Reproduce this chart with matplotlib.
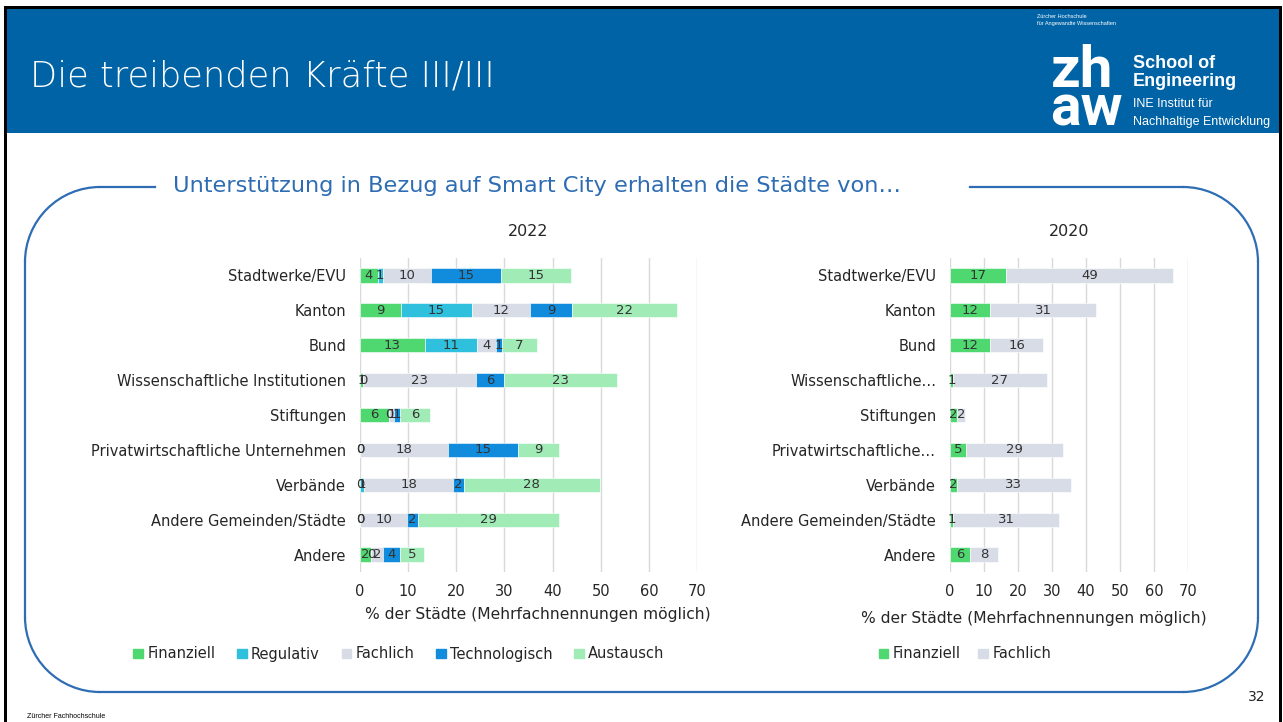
import matplotlib
matplotlib.use("Agg")
import matplotlib.pyplot as plt
from matplotlib.patches import Rectangle, Arc, Patch

plt.rcParams['font.family'] = ['DejaVu Sans']

# ---------------- data ----------------
categories = ["Stadtwerke/EVU", "Kanton", "Bund", "Wissenschaftliche Institutionen",
              "Stiftungen", "Privatwirtschaftliche Unternehmen", "Verbände",
              "Andere Gemeinden/Städte", "Andere"]
categories_2020 = ["Stadtwerke/EVU", "Kanton", "Bund", "Wissenschaftliche…",
                   "Stiftungen", "Privatwirtschaftliche…", "Verbände",
                   "Andere Gemeinden/Städte", "Andere"]

series_2022 = ["Finanziell", "Regulativ", "Fachlich", "Technologisch", "Austausch"]
finanziell_2022 = [3.7, 8.6, 13.4, 0.6, 6.1, 0.0, 0.0, 0.0, 2.3]
regulativ_2022 = [1.0, 14.6, 11.0, 0.0, 0.0, 0.0, 0.9, 0.0, 0.0]
fachlich_2022 = [10.0, 12.2, 3.8, 23.4, 1.0, 18.2, 18.4, 9.8, 2.4]
technologisch_2022 = [14.6, 8.6, 1.2, 6.0, 1.2, 14.6, 2.3, 2.3, 3.6]
austausch_2022 = [14.6, 21.9, 7.3, 23.3, 6.2, 8.6, 28.2, 29.2, 5.0]

series_2020 = ["Finanziell", "Fachlich"]
finanziell_2020 = [16.6, 11.8, 11.8, 1.0, 2.1, 4.6, 2.1, 1.0, 5.8]
fachlich_2020 = [49.0, 31.2, 15.6, 27.4, 2.4, 28.7, 33.4, 31.2, 8.4]

xticks = [0, 10, 20, 30, 40, 50, 60, 70]
xlabel = "% der Städte (Mehrfachnennungen möglich)"

colors = {"Finanziell": "#50d870", "Regulativ": "#2ec0dc", "Fachlich": "#d8dce6",
          "Technologisch": "#118bdb", "Austausch": "#a0ebb6"}

W, H = 1283, 722
fig = plt.figure(figsize=(W / 100, H / 100), dpi=100)
fig.patch.set_facecolor("white")

# ---------------- background / slide decoration ----------------
bg = fig.add_axes([0, 0, 1, 1], zorder=0)
bg.set_xlim(0, W)
bg.set_ylim(H, 0)
bg.axis("off")

header_blue = "#0063a6"
bg.add_patch(Rectangle((7, 9), 1272, 124, color=header_blue, lw=0))
bg.add_patch(Rectangle((4, 6), 3, H, color="black", lw=0))
bg.add_patch(Rectangle((4, 6), 1278, 3, color="black", lw=0))
bg.add_patch(Rectangle((1279, 6), 3, H, color="black", lw=0))

bg.text(30, 77, "Die treibenden Kräfte III/III", color="white", fontsize=25.4,
        va="center", ha="left", fontweight="light")

# logo
bg.text(1037, 17, "Zürcher Hochschule", color="white", fontsize=4, va="center",
        family="Liberation Sans")
bg.text(1037, 24, "für Angewandte Wissenschaften", color="white", fontsize=4,
        va="center", family="Liberation Sans")
bg.text(1051, 87, "zh", color="white", fontsize=42, fontweight="bold",
        family="Roboto", va="baseline")
bg.text(1050, 125, "aw", color="white", fontsize=41, fontweight="bold",
        family="Roboto", va="baseline")
bg.text(1133, 63, "School of", color="white", fontsize=13, fontweight="bold",
        family="Liberation Sans", va="center")
bg.text(1133, 82, "Engineering", color="white", fontsize=13, fontweight="bold",
        family="Liberation Sans", va="center")
bg.text(1133, 104, "INE Institut für", color="white", fontsize=9,
        family="Liberation Sans", va="center")
bg.text(1133, 122, "Nachhaltige Entwicklung", color="white", fontsize=9,
        family="Liberation Sans", va="center")

# rounded frame
fc = "#2e6db4"
L, R, T, B, r = 25, 1258, 187, 692, 75
lw = 1.6
bg.plot([L + r, 155], [T, T], color=fc, lw=lw)
bg.plot([970, R - r], [T, T], color=fc, lw=lw)
bg.plot([R, R], [T + r, B - r], color=fc, lw=lw)
bg.plot([L + r, R - r], [B, B], color=fc, lw=lw)
bg.plot([L, L], [T + r, B - r], color=fc, lw=lw)
bg.add_patch(Arc((L + r, T + r), 2 * r, 2 * r, theta1=180, theta2=270, color=fc, lw=lw))
bg.add_patch(Arc((R - r, T + r), 2 * r, 2 * r, theta1=270, theta2=360, color=fc, lw=lw))
bg.add_patch(Arc((R - r, B - r), 2 * r, 2 * r, theta1=0, theta2=90, color=fc, lw=lw))
bg.add_patch(Arc((L + r, B - r), 2 * r, 2 * r, theta1=90, theta2=180, color=fc, lw=lw))

bg.text(173, 186, "Unterstützung in Bezug auf Smart City erhalten die Städte von…",
        color=fc, fontsize=16.2, va="center", ha="left")

bg.text(1257, 697, "32", color="#222222", fontsize=10, ha="center", va="center")
bg.text(27, 716, "Zürcher Fachhochschule", color="black", fontsize=5,
        family="Liberation Sans", va="center")

# ---------------- charts ----------------
text_col = "#333333"


def px_axes(x0, x1, y0, y1):
    return fig.add_axes([x0 / W, 1 - y1 / H, (x1 - x0) / W, (y1 - y0) / H], zorder=2)


def style(ax, cats, title, label_x, label_y):
    ax.set_facecolor("none")
    ax.set_xlim(0, 70)
    ax.set_ylim(len(cats) - 0.5, -0.5)
    ax.set_xticks(xticks)
    ax.set_yticks(range(len(cats)))
    ax.set_yticklabels(cats, fontsize=10.5, color="#262626")
    ax.tick_params(axis="x", length=0, pad=9, labelsize=10.5, labelcolor="#262626")
    ax.tick_params(axis="y", length=0, pad=10)
    ax.grid(axis="x", color="#d9d9d9", lw=1)
    ax.set_axisbelow(True)
    for s in ax.spines.values():
        s.set_visible(False)
    ax.set_xlabel(xlabel, fontsize=11.2, color="#262626", va="center")
    ax.xaxis.set_label_coords(label_x, label_y)
    ax.set_title(title, fontsize=11.5, color="#262626", pad=16)


def stack(ax, data, names):
    left = [0.0] * len(categories)
    for vals, name in zip(data, names):
        bars = ax.barh(range(len(vals)), vals, left=left, height=0.41,
                       color=colors[name], edgecolor="white", linewidth=0.4, label=name)
        ax.bar_label(bars, labels=[f"{v:.0f}" for v in vals], label_type="center",
                     fontsize=9.5, color=text_col)
        left = [a + b for a, b in zip(left, vals)]


ax1 = px_axes(360, 697, 258, 572)
style(ax1, categories, "2022", (538 - 360) / 337, -(614 - 572) / 314)
stack(ax1, [finanziell_2022, regulativ_2022, fachlich_2022, technologisch_2022,
            austausch_2022], series_2022)

ax2 = px_axes(950, 1188, 258, 572)
style(ax2, categories_2020, "2020", (1034 - 950) / 238, -(618 - 572) / 314)
stack(ax2, [finanziell_2020, fachlich_2020], series_2020)

h1 = [Patch(color=colors[n], label=n) for n in series_2022]
fig.legend(handles=h1, loc="center", bbox_to_anchor=(399 / W, 1 - 654 / H), ncol=5,
           frameon=False, fontsize=10.5, handlelength=0.65, handleheight=0.65,
           handletextpad=0.3, columnspacing=1.5, labelcolor="#262626")
h2 = [Patch(color=colors[n], label=n) for n in series_2020]
fig.legend(handles=h2, loc="center", bbox_to_anchor=(965 / W, 1 - 654 / H), ncol=2,
           frameon=False, fontsize=10.5, handlelength=0.65, handleheight=0.65,
           handletextpad=0.3, columnspacing=1.2, labelcolor="#262626")

fig.savefig("out.png", dpi=100, facecolor="white")
